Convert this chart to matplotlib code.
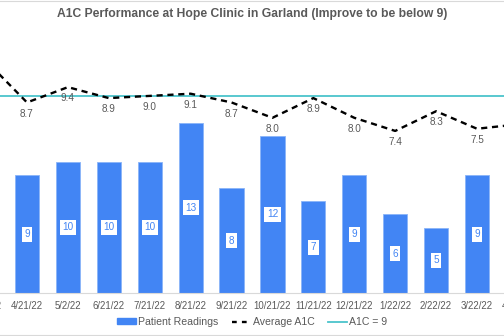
import matplotlib.pyplot as plt
from matplotlib.lines import Line2D
from matplotlib.patches import Patch

plt.rcParams['font.family'] = ['Liberation Sans', 'DejaVu Sans']

# categories (first and last are only partly in view)
dates = ["3/21/22", "4/21/22", "5/2/22", "6/21/22", "7/21/22", "8/21/22",
         "9/21/22", "10/21/22", "11/21/22", "12/21/22", "1/22/22",
         "2/22/22", "3/22/22", "4/22/22"]
readings = [9, 10, 10, 10, 13, 8, 12, 7, 9, 6, 5, 9]   # 4/21/22 .. 3/22/22
avg_a1c = [10.6, 8.7, 9.4, 8.9, 9.0, 9.1, 8.7, 8.0, 8.9, 8.0, 7.4, 8.3, 7.5, 7.7]
target = 9

blue = '#4285F4'
teal = '#4BC4CC'
grey = '#595959'

fig = plt.figure(figsize=(5.04, 3.36), dpi=100, facecolor='white')
ax = fig.add_axes([0, 43 / 336, 1, 233 / 336])
ax2 = ax.twinx()

xs = list(range(len(dates)))
bar_x = xs[1:13]
ax.bar(bar_x, readings, width=0.59, color=blue, edgecolor='#8AB4F8',
       linewidth=0.6, zorder=2)
for x, v in zip(bar_x, readings):
    ax.text(x, v / 2, str(v), ha='center', va='center', fontsize=7.2, color=blue,
            bbox=dict(boxstyle='square,pad=0.25', fc='white', ec='none'), zorder=3)

ax2.axhline(target, color=teal, lw=1.3, zorder=1)
ax2.plot(xs, avg_a1c, color='black', lw=1.7, linestyle=(0, (2.6, 2.0)), zorder=2)
for x, v in zip(xs[1:13], avg_a1c[1:13]):
    ax2.annotate(f"{v:.1f}", (x, v), xytext=(0, -8), textcoords='offset points',
                 ha='center', va='center', fontsize=7.2, color=grey)

ax.set_ylim(0, 233 / 13.1)
ax2.set_ylim(0, 233 / 21.9)
ax.set_xticks(xs)
ax.set_xticklabels(dates, fontsize=6.9, color=grey)
ax.tick_params(axis='x', length=0, pad=6)
ax.set_yticks([])
ax2.set_yticks([])
for a in (ax, ax2):
    for s in ('top', 'left', 'right'):
        a.spines[s].set_visible(False)
    a.set_xlim(0.34, 12.66)
    a.set_autoscalex_on(False)
ax.spines['bottom'].set_color('#D9D9D9')
ax2.spines['bottom'].set_visible(False)

# tick labels of the two categories that sit just outside the view
for i in (0, len(dates) - 1):
    ax.annotate(dates[i], (i, 0), xycoords=('data', 'axes fraction'), xytext=(0, -6),
                textcoords='offset points', ha='center', va='top', fontsize=6.9,
                color=grey, annotation_clip=False)

fig.text(0.5, 1 - 14 / 336, "A1C Performance at Hope Clinic in Garland (Improve to be below 9)",
         ha='center', va='center', fontsize=8.7, fontweight='bold', color=grey)

handles = [Patch(color=blue), Line2D([], [], color='black', lw=1.7, linestyle=(0, (2.0, 2.2))),
           Line2D([], [], color=teal, lw=1.3)]
labels = ["Patient Readings", "Average A1C", "A1C = 9"]
fig.legend(handles, labels, loc='center', bbox_to_anchor=(0.5, 1 - 322 / 336), ncol=3,
           frameon=False, fontsize=7.6, labelcolor=grey, handlelength=1.8,
           handleheight=0.5, handletextpad=0.2, columnspacing=1.3)

fig.add_artist(Line2D([0, 1], [1 - 1 / 336, 1 - 1 / 336], color='#D9D9D9', lw=0.8))
fig.add_artist(Line2D([0, 1], [1 / 336, 1 / 336], color='#D9D9D9', lw=0.8))

fig.savefig('out.png', dpi=100, facecolor='white')
